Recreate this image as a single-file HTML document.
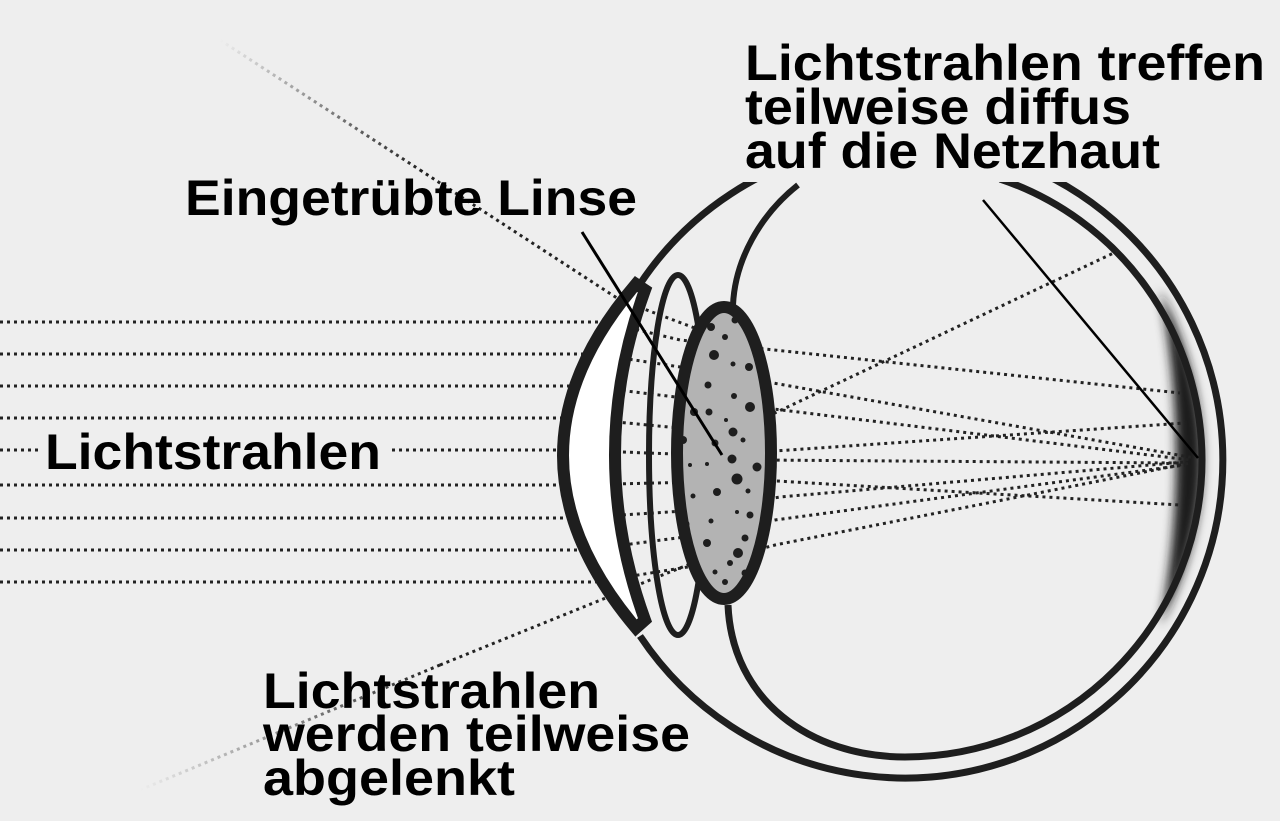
<!DOCTYPE html>
<html><head><meta charset="utf-8"><style>
html,body{margin:0;padding:0;background:#eeeeee;}
svg{display:block}
text{font-family:"Liberation Sans Narrow","Liberation Sans",sans-serif;font-weight:bold;fill:#000;font-size:50px}
</style></head><body>
<svg width="1280" height="821" viewBox="0 0 1280 821" xmlns="http://www.w3.org/2000/svg">
<defs>
<filter id="bl" x="-50%" y="-20%" width="200%" height="140%"><feGaussianBlur stdDeviation="5"/></filter>
<linearGradient id="g1" x1="220" y1="40" x2="420" y2="170" gradientUnits="userSpaceOnUse"><stop offset="0" stop-color="#222" stop-opacity="0"/><stop offset="1" stop-color="#222"/></linearGradient>
<linearGradient id="g2" x1="140" y1="790" x2="440" y2="665" gradientUnits="userSpaceOnUse"><stop offset="0" stop-color="#222" stop-opacity="0"/><stop offset="1" stop-color="#222"/></linearGradient>
</defs>
<rect width="1280" height="821" fill="#eeeeee"/>

<path d="M1160,290 Q1245,460 1160,625 Q1192,460 1160,290Z" fill="#1e1e1e" filter="url(#bl)"/>

<path d="M640,284 A318,318 0 1 1 640,636" fill="none" stroke="#1e1e1e" stroke-width="7"/>
<path d="M798,185 C760,215 735,260 733,305" fill="none" stroke="#1e1e1e" stroke-width="6"/>
<path d="M728,605 C732,700 810,757 905,757 A297,297 0 0 0 1202,460 A297,297 0 0 0 1000,179" fill="none" stroke="#1e1e1e" stroke-width="7"/>

<g fill="none" stroke="#222" stroke-width="3" stroke-dasharray="3 4">
<path d="M0,322 L605,322 L680,340 L1180,393"/>
<path d="M0,354 L595,354 L700,370 L1195,458"/>
<path d="M0,386 L585,386 L700,400 L1190,460"/>
<path d="M0,418 L575,418 L700,430 L760,452 L1185,423"/>
<path d="M0,450 L570,450 L700,455 L760,460 L1180,463"/>
<path d="M0,485 L570,485 L700,482 L760,480 L1180,505"/>
<path d="M0,518 L575,518 L700,510 L780,497 L1185,462"/>
<path d="M0,550 L585,550 L700,535 L775,520 L1185,465"/>
<path d="M0,582 L595,582 L700,565 L775,545 L1190,463"/>
<path d="M420,170 L620,300 L700,330 L760,352"/>
<path d="M440,665 L650,580 L700,560 L760,420 L1120,250"/>
</g>
<g fill="none" stroke-width="3" stroke-dasharray="3 4">
<path d="M220,40 L420,170" stroke="url(#g1)"/>
<path d="M140,790 L440,665" stroke="url(#g2)"/>
</g>

<ellipse cx="678" cy="455" rx="29" ry="180" fill="none" stroke="#1e1e1e" stroke-width="6"/>

<path d="M636,284 Q490,455 636,628 L645,620 Q585,455 645,290 Z" fill="#fff" stroke="#1e1e1e" stroke-width="12" stroke-linejoin="miter"/>

<ellipse cx="724" cy="453" rx="47" ry="146" fill="#b3b3b3" stroke="#1e1e1e" stroke-width="12"/>
<g fill="#1e1e1e">
<circle cx="711" cy="327" r="4"/><circle cx="725" cy="337" r="3"/><circle cx="714" cy="355" r="5"/><circle cx="733" cy="364" r="2.5"/>
<circle cx="749" cy="367" r="4"/><circle cx="708" cy="385" r="3.5"/><circle cx="734" cy="396" r="3"/><circle cx="750" cy="407" r="5"/>
<circle cx="694" cy="412" r="4"/><circle cx="709" cy="412" r="3.5"/><circle cx="726" cy="420" r="2"/><circle cx="733" cy="432" r="4.5"/>
<circle cx="743" cy="440" r="2.5"/><circle cx="683" cy="440" r="4"/><circle cx="715" cy="443" r="3.5"/><circle cx="732" cy="459" r="4.5"/>
<circle cx="707" cy="464" r="2"/><circle cx="757" cy="467" r="4.5"/><circle cx="737" cy="479" r="5.5"/><circle cx="717" cy="492" r="4"/>
<circle cx="748" cy="491" r="2.5"/><circle cx="693" cy="496" r="2.5"/><circle cx="737" cy="512" r="2"/><circle cx="711" cy="521" r="2.5"/>
<circle cx="750" cy="515" r="3.5"/><circle cx="707" cy="543" r="4"/><circle cx="738" cy="553" r="5"/><circle cx="745" cy="538" r="3.5"/>
<circle cx="730" cy="563" r="3"/><circle cx="715" cy="572" r="2.5"/><circle cx="745" cy="573" r="3.5"/><circle cx="725" cy="582" r="3"/>
<circle cx="735" cy="320" r="3.5"/><circle cx="686" cy="524" r="3.5"/><circle cx="690" cy="465" r="2"/>
</g>

<line x1="582" y1="232" x2="722" y2="455" stroke="#000" stroke-width="3"/>
<line x1="983" y1="200" x2="1198" y2="458" stroke="#000" stroke-width="2.5"/>

<rect x="735" y="30" width="545" height="152" fill="#eeeeee"/>
<rect x="38" y="428" width="350" height="48" fill="#eeeeee"/>

<text x="745" y="80" textLength="520" lengthAdjust="spacingAndGlyphs">Lichtstrahlen treffen</text>
<text x="745" y="124" textLength="386" lengthAdjust="spacingAndGlyphs">teilweise diffus</text>
<text x="745" y="168" textLength="415" lengthAdjust="spacingAndGlyphs">auf die Netzhaut</text>
<text x="185" y="215" textLength="452" lengthAdjust="spacingAndGlyphs">Eingetrübte Linse</text>
<text x="45" y="469" textLength="336" lengthAdjust="spacingAndGlyphs">Lichtstrahlen</text>
<text x="263" y="708" textLength="337" lengthAdjust="spacingAndGlyphs">Lichtstrahlen</text>
<text x="263" y="751" textLength="427" lengthAdjust="spacingAndGlyphs">werden teilweise</text>
<text x="263" y="795" textLength="252" lengthAdjust="spacingAndGlyphs">abgelenkt</text>
</svg>
</body></html>
